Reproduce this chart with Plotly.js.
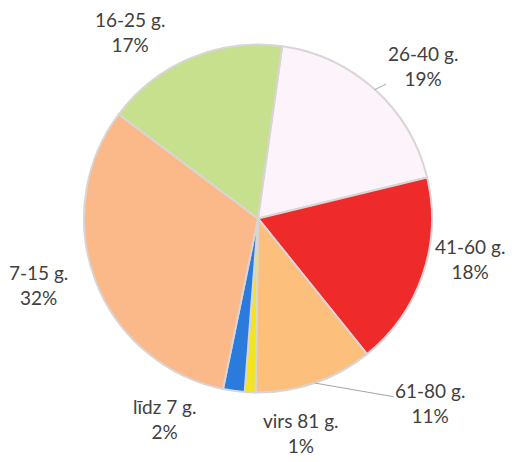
<!DOCTYPE html>
<html>
<head>
<meta charset="utf-8">
<script src="https://cdn.plot.ly/plotly-3.0.1.min.js"></script>
<style>html,body{margin:0;padding:0;background:#fff;}#chart{width:512px;height:462px;}</style>
</head>
<body>
<div id="chart"></div>
<script>
// data
const categories = ['26-40 g.', '41-60 g.', '61-80 g.', 'virs 81 g.', 'līdz 7 g.', '7-15 g.', '16-25 g.'];
const shares = [19, 18, 11, 1, 2, 32, 17];

// styles
const sliceColors = ['#fdf4fb', '#ee2a2a', '#fcc07c', '#f2e41e', '#2b7bdc', '#fbb888', '#c6e08e'];
const startRotation = 8;            // degrees clockwise from 12 o'clock
const labelAngleShift = [5, -8, -24, -14, 17, 4, -12];   // degrees, label placement tweak
const labelDistance = [1.29, 1.24, 1.45, 1.26, 1.27, 1.32, 1.30]; // × pie radius
const leaderLine = [true, false, true, false, false, false, false];

const W = 512, H = 462;
const M = { l: 84, r: 80, t: 42, b: 67 };
const plotW = W - M.l - M.r, plotH = H - M.t - M.b;
const R = Math.min(plotW, plotH) / 2;

const total = shares.reduce((a, b) => a + b, 0);
let acc = 0;
const annotations = categories.map((cat, i) => {
  const mid = startRotation + (acc + shares[i] / 2) / total * 360;
  acc += shares[i];
  const phi = (mid + labelAngleShift[i]) * Math.PI / 180;
  const d = R * labelDistance[i];
  const dx = d * Math.sin(phi), dy = -d * Math.cos(phi);
  const text = cat + '<br>' + shares[i] + '%';
  const font = { family: 'Lato, "Noto Sans", sans-serif', size: 19, color: '#404040' };
  if (leaderLine[i]) {
    const a = mid * Math.PI / 180;
    const ex = R * Math.sin(a), ey = -R * Math.cos(a);
    return {
      xref: 'paper', yref: 'paper',
      x: 0.5 + ex / plotW, y: 0.5 - ey / plotH,
      ax: dx - ex, ay: dy - ey,
      text: text, showarrow: true, arrowhead: 0, arrowwidth: 1,
      arrowcolor: '#a6a6a6', standoff: 0, font: font, align: 'center'
    };
  }
  return {
    xref: 'paper', yref: 'paper',
    x: 0.5 + dx / plotW, y: 0.5 - dy / plotH,
    xanchor: 'center', yanchor: 'middle',
    text: text, showarrow: false, font: font, align: 'center'
  };
});

Plotly.newPlot('chart', [{
  type: 'pie',
  labels: categories,
  values: shares,
  sort: false,
  direction: 'clockwise',
  rotation: startRotation,
  marker: { colors: sliceColors, line: { color: '#d9d4d6', width: 2 } },
  textinfo: 'none',
  automargin: false,
  showlegend: false,
  hoverinfo: 'label+percent'
}], {
  width: W, height: H,
  margin: M,
  paper_bgcolor: '#ffffff',
  showlegend: false,
  annotations: annotations
}, { staticPlot: true });
</script>
</body>
</html>
